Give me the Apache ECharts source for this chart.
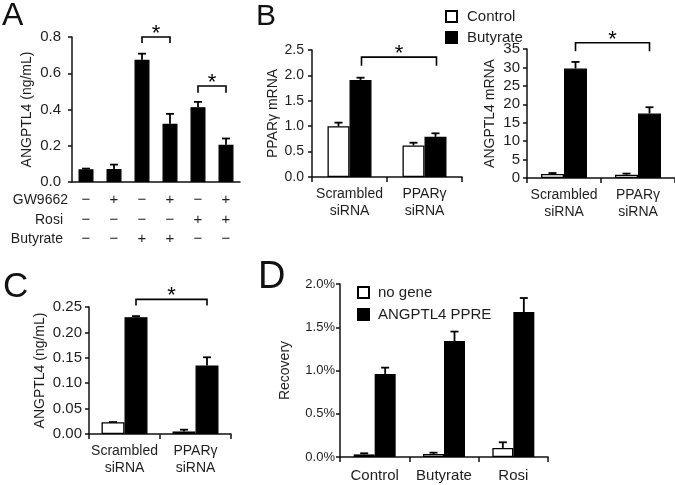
<!DOCTYPE html>
<html>
<head>
<meta charset="utf-8">
<script src="https://cdn.jsdelivr.net/npm/echarts@6/dist/echarts.min.js"></script>
<style>
html,body{margin:0;padding:0;background:#fff;}
#main{width:675px;height:485px;}
</style>
</head>
<body>
<div id="main"></div>
<script>
// ---------- Data ----------
// Panel A
const aCats = ['c1', 'c2', 'c3', 'c4', 'c5', 'c6'];
const aValues = [0.070, 0.072, 0.675, 0.321, 0.413, 0.205];
const aErrTop = [0.074, 0.096, 0.708, 0.376, 0.442, 0.240];
const gwSigns = ['−', '+', '−', '+', '−', '+'];
const rosiSigns = ['−', '−', '−', '−', '+', '+'];
const butySigns = ['−', '−', '+', '+', '−', '−'];
const aRowNames = ['GW9662', 'Rosi', 'Butyrate'];
const aBrackets = [[2, 3, 0.80, 0.767], [4, 5, 0.53, 0.493]];

// Panel B
const bCats = ['Scrambled\nsiRNA', 'PPARγ\nsiRNA'];
const b1Control = [1.00, 0.62];
const b1ControlTop = [1.07, 0.675];
const b1Buty = [1.91, 0.79];
const b1ButyTop = [1.955, 0.86];
const b1Brackets = [[0, 1, 2.36, 2.19]];

const b2Control = [1.1, 0.9];
const b2ControlTop = [1.35, 1.2];
const b2Buty = [29.7, 17.5];
const b2ButyTop = [31.5, 19.2];
const b2Brackets = [[0, 1, 36.7, 34.4]];

// Panel C
const cControl = [0.023, 0.005];
const cControlTop = [0.0235, 0.0085];
const cButy = [0.230, 0.135];
const cButyTop = [0.232, 0.151];
const cBrackets = [[0, 1, 0.265, 0.253]];

// Panel D (percent)
const dCats = ['Control', 'Butyrate', 'Rosi'];
const dNoGene = [0.030, 0.035, 0.105];
const dNoGeneTop = [0.043, 0.050, 0.170];
const dPPRE = [0.960, 1.340, 1.675];
const dPPRETop = [1.033, 1.450, 1.838];

// ---------- Helpers ----------
const FONT = "'Liberation Sans', Arial, Helvetica, sans-serif";
const TXT = '#1e1e1e';
const LINE = '#111';

function errData(vals, tops) { return vals.map((v, i) => [i, v, tops[i]]); }

function errRender(offset, cap) {
  return function (params, api) {
    const c = api.value(0), v = api.value(1), t = api.value(2);
    const p0 = api.coord([c, v]);
    const p1 = api.coord([c, t]);
    const x = p0[0] + offset;
    return {
      type: 'group',
      children: [
        { type: 'line', shape: { x1: x, y1: p0[1], x2: x, y2: p1[1] }, style: { stroke: '#000', lineWidth: 1.8 } },
        { type: 'line', shape: { x1: x - cap, y1: p1[1], x2: x + cap, y2: p1[1] }, style: { stroke: '#000', lineWidth: 1.8 } }
      ]
    };
  };
}

function bracketRender(offset) {
  return function (params, api) {
    const i1 = api.value(0), i2 = api.value(1), lv = api.value(2), dr = api.value(3);
    const a = api.coord([i1, lv]);
    const b = api.coord([i2, lv]);
    const d = api.coord([i1, dr]);
    const x1 = a[0] + offset, x2 = b[0] + offset;
    return {
      type: 'group',
      children: [
        { type: 'polyline', shape: { points: [[x1, d[1]], [x1, a[1]], [x2, a[1]], [x2, d[1]]] },
          style: { stroke: '#000', lineWidth: 1.6, fill: null } },
        { type: 'text', style: { text: '*', x: (x1 + x2) / 2, y: a[1] - 3, align: 'center', verticalAlign: 'middle',
          fontSize: 22, fontFamily: FONT, fill: '#000' } }
      ]
    };
  };
}

function valueAxis(grid, min, max, interval, fmt, name, nameGap, fs, margin) {
  return {
    type: 'value', gridIndex: grid, min: min, max: max, interval: interval,
    name: name, nameLocation: 'middle', nameGap: nameGap,
    nameTextStyle: { fontFamily: FONT, fontSize: 14, color: TXT },
    axisLine: { show: true, lineStyle: { color: LINE, width: 1.5 } },
    axisTick: { show: true, length: 4, lineStyle: { color: LINE, width: 1.5 } },
    splitLine: { show: false },
    axisLabel: { formatter: fmt, fontFamily: FONT, fontSize: fs || 14, color: TXT, margin: margin }
  };
}

function catAxis(grid, data, fs, margin) {
  return {
    type: 'category', gridIndex: grid, data: data,
    axisLine: { show: true, lineStyle: { color: LINE, width: 1.5 } },
    axisTick: { show: true, length: 5, interval: 0, lineStyle: { color: LINE, width: 1.5 } },
    axisLabel: { interval: 0, fontFamily: FONT, fontSize: fs, color: TXT, margin: margin, lineHeight: 17 }
  };
}

function signAxis(signs, offset, name, nameGap) {
  return {
    type: 'category', gridIndex: 0, data: aCats, position: 'bottom', offset: offset,
    name: name, nameLocation: 'start', nameGap: nameGap,
    nameTextStyle: { fontFamily: FONT, fontSize: 14, color: TXT, align: 'right', verticalAlign: 'middle' },
    axisLine: { show: false }, axisTick: { show: false },
    axisLabel: { interval: 0, margin: 0, verticalAlign: 'middle', fontFamily: FONT, fontSize: 15, color: TXT,
      formatter: function (v, idx) { return signs[idx]; } }
  };
}

const whiteStyle = { color: '#fff', borderColor: '#000', borderWidth: 1.3 };
const blackStyle = { color: '#000', borderColor: '#000', borderWidth: 1.3 };

// ---------- Chart ----------
const chart = echarts.init(document.getElementById('main'), null, { renderer: 'canvas' });

const option = {
  animation: false,
  backgroundColor: '#fff',
  textStyle: { fontFamily: FONT },
  grid: [
    { left: 72, top: 37, width: 168, height: 145 },
    { left: 312, top: 50, width: 150, height: 127 },
    { left: 527, top: 49, width: 148, height: 129 },
    { left: 89, top: 307, width: 142, height: 127 },
    { left: 340, top: 284, width: 208, height: 173 }
  ],
  legend: [
    { data: ['Control', 'Butyrate'], left: 440, top: 4, orient: 'vertical', itemWidth: 11, itemHeight: 11, itemGap: 6,
      selectedMode: false, icon: 'rect',
      textStyle: { fontFamily: FONT, fontSize: 15, color: TXT, padding: [0, 0, 0, 5] } },
    { data: ['no gene', 'ANGPTL4 PPRE'], left: 352, top: 280, orient: 'vertical', itemWidth: 11, itemHeight: 11, itemGap: 7,
      selectedMode: false, icon: 'rect',
      textStyle: { fontFamily: FONT, fontSize: 15, color: TXT, padding: [0, 0, 0, 4] } }
  ],
  xAxis: [
    { type: 'category', gridIndex: 0, data: aCats,
      axisLine: { show: true, lineStyle: { color: LINE, width: 1.5 } }, axisTick: { show: false }, axisLabel: { show: false } },
    signAxis(gwSigns, 18, aRowNames[0], 4),
    signAxis(rosiSigns, 38, aRowNames[1], 9),
    signAxis(butySigns, 57, aRowNames[2], 9),
    catAxis(1, bCats, 14, 9),
    catAxis(2, bCats, 14, 9),
    catAxis(3, bCats, 14, 9),
    catAxis(4, dCats, 15, 10)
  ],
  yAxis: [
    valueAxis(0, 0, 0.8, 0.2, v => v.toFixed(1), 'ANGPTL4 (ng/mL)', 38, 15, 11),
    valueAxis(1, 0, 2.5, 0.5, v => v.toFixed(1), 'PPARγ mRNA', 32, 14, 8),
    valueAxis(2, 0, 35, 5, v => String(v), 'ANGPTL4 mRNA', 30, 15, 7),
    valueAxis(3, 0, 0.25, 0.05, v => v.toFixed(2), 'ANGPTL4 (ng/mL)', 42, 15, 7),
    valueAxis(4, 0, 2.0, 0.5, v => v.toFixed(1) + '%', 'Recovery', 48, 13, 5)
  ],
  graphic: [
    { type: 'text', left: 2, top: 0, style: { text: 'A', fontSize: 32, fontFamily: FONT, fill: '#111' } },
    { type: 'text', left: 256, top: 2, style: { text: 'B', fontSize: 30, fontFamily: FONT, fill: '#111' } },
    { type: 'text', left: 3, top: 270, style: { text: 'C', fontSize: 35, fontFamily: FONT, fill: '#111' } },
    { type: 'text', left: 258, top: 259, style: { text: 'D', fontSize: 38, fontFamily: FONT, fill: '#111' } }
  ],
  series: [
    // Panel A
    { type: 'bar', name: 'A', xAxisIndex: 0, yAxisIndex: 0, data: aValues, barWidth: 15, itemStyle: blackStyle },
    { type: 'custom', xAxisIndex: 0, yAxisIndex: 0, data: errData(aValues, aErrTop), renderItem: errRender(0, 4), z: 3 },
    { type: 'custom', xAxisIndex: 0, yAxisIndex: 0, data: aBrackets, encode: { x: [0, 1], y: [2, 3] }, renderItem: bracketRender(0), z: 3 },
    // Panel B1
    { type: 'bar', name: 'Control', xAxisIndex: 4, yAxisIndex: 1, data: b1Control, barWidth: 22, barGap: '0%', itemStyle: whiteStyle },
    { type: 'bar', name: 'Butyrate', xAxisIndex: 4, yAxisIndex: 1, data: b1Buty, barWidth: 22, barGap: '0%', itemStyle: blackStyle },
    { type: 'custom', xAxisIndex: 4, yAxisIndex: 1, data: errData(b1Control, b1ControlTop), renderItem: errRender(-11, 4), z: 3 },
    { type: 'custom', xAxisIndex: 4, yAxisIndex: 1, data: errData(b1Buty, b1ButyTop), renderItem: errRender(11, 4), z: 3 },
    { type: 'custom', xAxisIndex: 4, yAxisIndex: 1, data: b1Brackets, encode: { x: [0, 1], y: [2, 3] }, renderItem: bracketRender(12), z: 3 },
    // Panel B2
    { type: 'bar', name: 'Control', xAxisIndex: 5, yAxisIndex: 2, data: b2Control, barWidth: 23, barGap: '0%', itemStyle: whiteStyle },
    { type: 'bar', name: 'Butyrate', xAxisIndex: 5, yAxisIndex: 2, data: b2Buty, barWidth: 23, barGap: '0%', itemStyle: blackStyle },
    { type: 'custom', xAxisIndex: 5, yAxisIndex: 2, data: errData(b2Control, b2ControlTop), renderItem: errRender(-11.5, 4), z: 3 },
    { type: 'custom', xAxisIndex: 5, yAxisIndex: 2, data: errData(b2Buty, b2ButyTop), renderItem: errRender(11.5, 4), z: 3 },
    { type: 'custom', xAxisIndex: 5, yAxisIndex: 2, data: b2Brackets, encode: { x: [0, 1], y: [2, 3] }, renderItem: bracketRender(11.5), z: 3 },
    // Panel C
    { type: 'bar', name: 'Control', xAxisIndex: 6, yAxisIndex: 3, data: cControl, barWidth: 23, barGap: '0%', itemStyle: whiteStyle },
    { type: 'bar', name: 'Butyrate', xAxisIndex: 6, yAxisIndex: 3, data: cButy, barWidth: 23, barGap: '0%', itemStyle: blackStyle },
    { type: 'custom', xAxisIndex: 6, yAxisIndex: 3, data: errData(cControl, cControlTop), renderItem: errRender(-11.5, 4), z: 3 },
    { type: 'custom', xAxisIndex: 6, yAxisIndex: 3, data: errData(cButy, cButyTop), renderItem: errRender(11.5, 4), z: 3 },
    { type: 'custom', xAxisIndex: 6, yAxisIndex: 3, data: cBrackets, encode: { x: [0, 1], y: [2, 3] }, renderItem: bracketRender(11.5), z: 3 },
    // Panel D
    { type: 'bar', name: 'no gene', xAxisIndex: 7, yAxisIndex: 4, data: dNoGene, barWidth: 21, barGap: '0%', itemStyle: whiteStyle },
    { type: 'bar', name: 'ANGPTL4 PPRE', xAxisIndex: 7, yAxisIndex: 4, data: dPPRE, barWidth: 21, barGap: '0%', itemStyle: blackStyle },
    { type: 'custom', xAxisIndex: 7, yAxisIndex: 4, data: errData(dNoGene, dNoGeneTop), renderItem: errRender(-10.5, 4), z: 3 },
    { type: 'custom', xAxisIndex: 7, yAxisIndex: 4, data: errData(dPPRE, dPPRETop), renderItem: errRender(10.5, 4), z: 3 }
  ]
};

chart.setOption(option);
</script>
</body>
</html>
